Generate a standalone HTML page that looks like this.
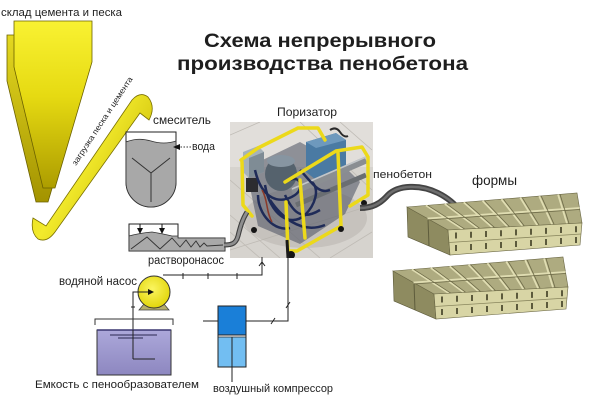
<!DOCTYPE html>
<html><head><meta charset="utf-8">
<style>
html,body{margin:0;padding:0;background:#fff}
svg{display:block}
text{font-family:"Liberation Sans","Noto Sans CJK SC",Arial,sans-serif;fill:#1e1e1e}
</style></head>
<body>
<svg width="600" height="400" viewBox="0 0 600 400" xmlns="http://www.w3.org/2000/svg">
<defs>
  <linearGradient id="siloF" x1="0" y1="0" x2="0" y2="1">
    <stop offset="0" stop-color="#f9f232"/>
    <stop offset="0.45" stop-color="#e6da12"/>
    <stop offset="1" stop-color="#ad9d00"/>
  </linearGradient>
  <linearGradient id="siloB" x1="0" y1="0" x2="0" y2="1">
    <stop offset="0" stop-color="#e4d820"/>
    <stop offset="1" stop-color="#a39300"/>
  </linearGradient>
  <linearGradient id="band" x1="0" y1="0" x2="1" y2="0.7">
    <stop offset="0" stop-color="#d8cc10"/>
    <stop offset="0.5" stop-color="#f2ea2c"/>
    <stop offset="1" stop-color="#c4b400"/>
  </linearGradient>
  <linearGradient id="tank" x1="0" y1="0" x2="0" y2="1">
    <stop offset="0" stop-color="#aca8da"/>
    <stop offset="1" stop-color="#8d87c0"/>
  </linearGradient>
  <radialGradient id="pumpG" cx="0.45" cy="0.4" r="0.6">
    <stop offset="0" stop-color="#fbf560"/>
    <stop offset="1" stop-color="#e2d60c"/>
  </radialGradient>
  <clipPath id="pc"><rect x="230" y="122" width="143" height="136"/></clipPath>
  <g id="form">
    <polygon points="407,207 448,230 450,255 408,237" fill="#8e8b60" stroke="#5a5838" stroke-width="0.6"/>
    <line x1="428" y1="219" x2="429" y2="246" stroke="#5e5c3c" stroke-width="1"/>
    <polygon points="407,207 577,193 582,223 448,230" fill="#aeab80" stroke="#6a6744" stroke-width="0.6"/>
    <g stroke="#e0ddb2" stroke-width="1.8">
      <line x1="425.9" y1="205.4" x2="462.9" y2="229.2"/>
      <line x1="444.8" y1="203.9" x2="477.8" y2="228.4"/>
      <line x1="463.7" y1="202.3" x2="492.7" y2="227.7"/>
      <line x1="482.6" y1="200.8" x2="507.6" y2="226.9"/>
      <line x1="501.4" y1="199.2" x2="522.4" y2="226.1"/>
      <line x1="520.3" y1="197.7" x2="537.3" y2="225.3"/>
      <line x1="539.2" y1="196.1" x2="552.2" y2="224.6"/>
      <line x1="558.1" y1="194.6" x2="567.1" y2="223.8"/>
      <line x1="427.5" y1="218.5" x2="579.5" y2="208"/>
    </g>
    <g stroke="#6e6b48" stroke-width="0.8">
      <line x1="427.9" y1="205.4" x2="464.9" y2="229.2"/>
      <line x1="446.8" y1="203.9" x2="479.8" y2="228.4"/>
      <line x1="465.7" y1="202.3" x2="494.7" y2="227.7"/>
      <line x1="484.6" y1="200.8" x2="509.6" y2="226.9"/>
      <line x1="503.4" y1="199.2" x2="524.4" y2="226.1"/>
      <line x1="522.3" y1="197.7" x2="539.3" y2="225.3"/>
      <line x1="541.2" y1="196.1" x2="554.2" y2="224.6"/>
      <line x1="560.1" y1="194.6" x2="569.1" y2="223.8"/>
      <line x1="427.5" y1="220" x2="579.5" y2="209.5"/>
    </g>
    <polygon points="448,230 582,223 580,245 450,255" fill="#d8d5a5" stroke="#6a6744" stroke-width="0.6"/>
    <line x1="449" y1="242.5" x2="581" y2="234" stroke="#8a875e" stroke-width="0.8"/>
    <path d="M456,232.5V238.5M456,245V251M471,231.8V237.8M471,244V250M486,231V237M486,243V249M501,230.2V236.2M501,242V248M516,229.4V235.4M516,241V247M531,228.7V234.7M531,240V246M546,227.9V233.9M546,239V245M561,227V233M561,238V244M576,226.3V232.3M576,237V243" stroke="#3e3c22" stroke-width="1.6"/>
  </g>
</defs>

<rect width="600" height="400" fill="#fff"/>

<!-- Title -->
<text x="204" y="47" font-size="19" font-weight="bold" fill="#111" textLength="232" lengthAdjust="spacingAndGlyphs">Схема непрерывного</text>
<text x="177" y="70" font-size="19" font-weight="bold" fill="#111" textLength="291" lengthAdjust="spacingAndGlyphs">производства пенобетона</text>

<!-- Silo -->
<text x="1" y="16" font-size="11" textLength="121" lengthAdjust="spacingAndGlyphs">склад цемента и песка</text>
<polygon points="7,35 85,35 85,76 48,202 36,202 7,81" fill="url(#siloB)" stroke="#6b6100" stroke-width="0.8"/>
<polygon points="14,21 92,21 92,62 55,188 43,188 14,67" fill="url(#siloF)" stroke="#6b6100" stroke-width="0.8"/>

<!-- Conveyor band -->
<path d="M33,218 L46,226 L132,100 Q140,91 148,97 Q156,107 149,120 L140,113 L55,232 Q47,243 38,239 Q30,232 33,218 Z" fill="url(#band)" stroke="#7a7000" stroke-width="0.8"/>
<text x="76" y="166" font-size="8" fill="#333" transform="rotate(-56.8 76 166)" textLength="104" lengthAdjust="spacingAndGlyphs">загрузка песка и цемента</text>

<!-- Mixer -->
<text x="153" y="124" font-size="12" textLength="58" lengthAdjust="spacingAndGlyphs">смеситель</text>
<path d="M126,132 H176 V182 A25,25 0 0 1 126,182 Z" fill="#fff" stroke="#222" stroke-width="1"/>
<path d="M126,142 Q138,137 151,141 Q164,145 176,141 V182 A25,25 0 0 1 126,182 Z" fill="#a8a8a8" stroke="#333" stroke-width="0.8"/>
<path d="M132,158 L151,173 L170,158 M151,173 V202" fill="none" stroke="#333" stroke-width="1"/>
<line x1="191" y1="147" x2="179" y2="147" stroke="#333" stroke-width="0.9" stroke-dasharray="1.5,1.5"/>
<polygon points="173,147 180,144 180,150" fill="#111"/>
<text x="192" y="150" font-size="11" textLength="23" lengthAdjust="spacingAndGlyphs">вода</text>

<!-- Mortar pump -->
<path d="M129,224 H178 V238 H225 V251 H129 Z" fill="#fff" stroke="#222" stroke-width="1"/>
<path d="M129,236 Q140,233 152,232 Q164,234 172,236 L178,236 V238 H225 V251 H129 Z" fill="#a9a9a9" stroke="#333" stroke-width="0.8"/>
<path d="M140,224V229M162,224V229" stroke="#111" stroke-width="1"/>
<polygon points="137,228 143,228 140,234" fill="#111"/>
<polygon points="159,228 165,228 162,234" fill="#111"/>
<polyline points="131,249 147,237 160,249 172,238 180,247 186,240 191,247 196,241 200,247 204,243 207,246 223,245" fill="none" stroke="#333" stroke-width="0.9"/>
<text x="148" y="264" font-size="11.5" textLength="76" lengthAdjust="spacingAndGlyphs">растворонасос</text>

<!-- Porizator photo -->
<text x="277" y="116" font-size="12" textLength="60" lengthAdjust="spacingAndGlyphs">Поризатор</text>
<g clip-path="url(#pc)">
  <rect x="230" y="122" width="143" height="136" fill="#d6d3ce"/>
  <rect x="230" y="122" width="143" height="45" fill="#e3e1dd" opacity="0.8"/>
  <g stroke="#bfbbb5" stroke-width="0.8">
    <line x1="230" y1="215" x2="280" y2="258"/>
    <line x1="230" y1="180" x2="320" y2="258"/>
    <line x1="300" y1="122" x2="372" y2="190"/>
    <line x1="340" y1="122" x2="372" y2="150"/>
    <line x1="230" y1="250" x2="372" y2="205"/>
    <line x1="260" y1="122" x2="230" y2="135"/>
    <line x1="372" y1="232" x2="330" y2="258"/>
    <line x1="230" y1="232" x2="260" y2="258"/>
  </g>
  <ellipse cx="305" cy="218" rx="62" ry="30" fill="#b5b1ab" opacity="0.5"/>
  <!-- dark machine body -->
  <polygon points="246,168 300,142 346,168 360,182 345,214 300,244 258,226" fill="#4a5060" opacity="0.55"/>
  <!-- blue cabinet -->
  <polygon points="306,142 336,133 346,140 346,172 316,180 306,172" fill="#4a7aa3"/>
  <polygon points="306,142 336,133 346,140 316,148" fill="#6e99bd"/>
  <path d="M330,130 q6,-4 10,2 q4,6 8,4" fill="none" stroke="#2a2a2a" stroke-width="2"/>
  <!-- left control box -->
  <polygon points="243,152 258,146 264,152 264,172 249,178 243,172" fill="#a6b2ba"/>
  <polygon points="249,158 264,152 264,172 249,178" fill="#7f8c95"/>
  <rect x="246" y="178" width="12" height="14" fill="#2c2c30"/>
  <!-- motor -->
  <ellipse cx="281" cy="174" rx="16" ry="17" fill="#55626d"/>
  <ellipse cx="281" cy="161" rx="14" ry="6" fill="#8795a1"/>
  <!-- pipes -->
  <line x1="292" y1="192" x2="366" y2="160" stroke="#8a8e92" stroke-width="7"/>
  <line x1="296" y1="205" x2="366" y2="175" stroke="#6a6e72" stroke-width="5"/>
  <line x1="292" y1="189" x2="366" y2="157" stroke="#c2c6c9" stroke-width="1.5"/>
  <!-- cables -->
  <g fill="none" stroke="#1f2b58" stroke-width="2.5">
    <path d="M255,170 C262,200 280,205 295,195 C305,188 300,175 290,180"/>
    <path d="M265,185 C270,215 290,228 305,215 C315,205 320,190 312,182"/>
    <path d="M258,195 C258,215 275,232 290,228"/>
    <path d="M285,195 C292,210 300,222 320,210"/>
    <path d="M300,170 C310,180 318,195 330,190"/>
    <path d="M270,200 C280,215 300,235 325,225"/>
  </g>
  <path d="M262,190 C268,200 266,212 272,222" fill="none" stroke="#8b3a2a" stroke-width="1.5"/>
  <!-- yellow frame -->
  <g fill="none" stroke="#ecd91a" stroke-width="3.5" stroke-linecap="round" stroke-linejoin="round">
    <polyline points="241,160 258,148 298,128 318,128 325,140"/>
    <polyline points="285,182 336,151 362,147 368,157 368,195 350,206"/>
    <polyline points="338,153 341,226 297,251 288,251 286,202"/>
    <polyline points="242,162 243,205 252,216"/>
    <polyline points="300,180 305,238"/>
  </g>
  <!-- wheels -->
  <circle cx="291" cy="255" r="4" fill="#151515"/>
  <circle cx="341" cy="229" r="3" fill="#151515"/>
  <circle cx="254" cy="230" r="3" fill="#151515"/>
  <circle cx="364" cy="203" r="3" fill="#151515"/>
  <line x1="287" y1="240" x2="288" y2="258" stroke="#1a1a1a" stroke-width="3"/>
</g>

<!-- hose pump -> porizator -->
<path d="M224,245 C233,245 236,243 238,236 C240,228 242,220 247,212" fill="none" stroke="#3f3f3f" stroke-width="5"/>
<path d="M224,245 C233,245 236,243 238,236 C240,228 242,220 247,212" fill="none" stroke="#8e8e8e" stroke-width="2.8"/>

<!-- hose porizator -> forms -->
<path d="M360,208 C372,208 380,204 388,195 C398,185 420,184 438,193 C448,198 455,204 460,211" fill="none" stroke="#444" stroke-width="6"/>
<path d="M360,208 C372,208 380,204 388,195 C398,185 420,184 438,193 C448,198 455,204 460,211" fill="none" stroke="#6e6e6e" stroke-width="2.5"/>
<text x="373" y="178" font-size="11" textLength="59" lengthAdjust="spacingAndGlyphs">пенобетон</text>

<!-- Forms -->
<text x="472" y="185" font-size="14" textLength="45" lengthAdjust="spacingAndGlyphs">формы</text>
<use href="#form"/>
<use href="#form" transform="translate(-14,64)"/>

<!-- Water pump line to porizator -->
<g stroke="#222" stroke-width="1" fill="none">
  <polyline points="163,275 262,275 262,257"/>
  <path d="M183,273V279M208,273V279M237,273V279"/>
  <path d="M259,266 L262,262 L265,266"/>
</g>
<!-- Water pump -->
<text x="59" y="285" font-size="11.5" textLength="78" lengthAdjust="spacingAndGlyphs">водяной насос</text>
<polygon points="144,304 164,304 169,310 139,310" fill="#b5ad6a" stroke="#444" stroke-width="0.8"/>
<circle cx="154" cy="292" r="16" fill="url(#pumpG)" stroke="#333" stroke-width="1"/>
<g stroke="#222" stroke-width="1" fill="none">
  <polyline points="150,292 133,292 133,359 155,359"/>
  <path d="M131,307h4M131,337h4"/>
</g>
<polygon points="154,292 148,289 148,295" fill="#111"/>

<!-- Tank -->
<polyline points="95,325 95,319 173,319 173,325" fill="none" stroke="#333" stroke-width="1"/>
<rect x="97" y="330" width="74" height="45" fill="url(#tank)" stroke="#333" stroke-width="1"/>
<line x1="97" y1="330" x2="171" y2="330" stroke="#3a3670" stroke-width="1.5"/>
<line x1="110" y1="335" x2="157" y2="335" stroke="#2a2850" stroke-width="0.9"/>
<line x1="118" y1="338" x2="143" y2="338" stroke="#2a2850" stroke-width="0.9"/>
<line x1="133" y1="330" x2="133" y2="359" stroke="#222" stroke-width="1"/>
<line x1="133" y1="359" x2="155" y2="359" stroke="#222" stroke-width="1"/>
<text x="35" y="388" font-size="11" textLength="164" lengthAdjust="spacingAndGlyphs">Емкость с пенообразователем</text>

<!-- Compressor -->
<g stroke="#222" stroke-width="1" fill="none">
  <line x1="203" y1="321" x2="218" y2="321"/>
  <polyline points="246,321 288,321 288,256"/>
  <path d="M271,324 L275,318M286,308 L290,302"/>
</g>
<rect x="218" y="306" width="28" height="29" fill="#1a7fd8"/>
<rect x="218" y="337" width="28" height="30" fill="#72bef2"/>
<rect x="218" y="306" width="28" height="61" fill="none" stroke="#222" stroke-width="1"/>
<line x1="218" y1="335" x2="246" y2="335" stroke="#222" stroke-width="1"/>
<line x1="218" y1="337" x2="246" y2="337" stroke="#222" stroke-width="0.8"/>
<line x1="232" y1="337" x2="232" y2="382" stroke="#222" stroke-width="1"/>
<text x="213" y="392" font-size="11" textLength="120" lengthAdjust="spacingAndGlyphs">воздушный компрессор</text>
</svg>
</body></html>
